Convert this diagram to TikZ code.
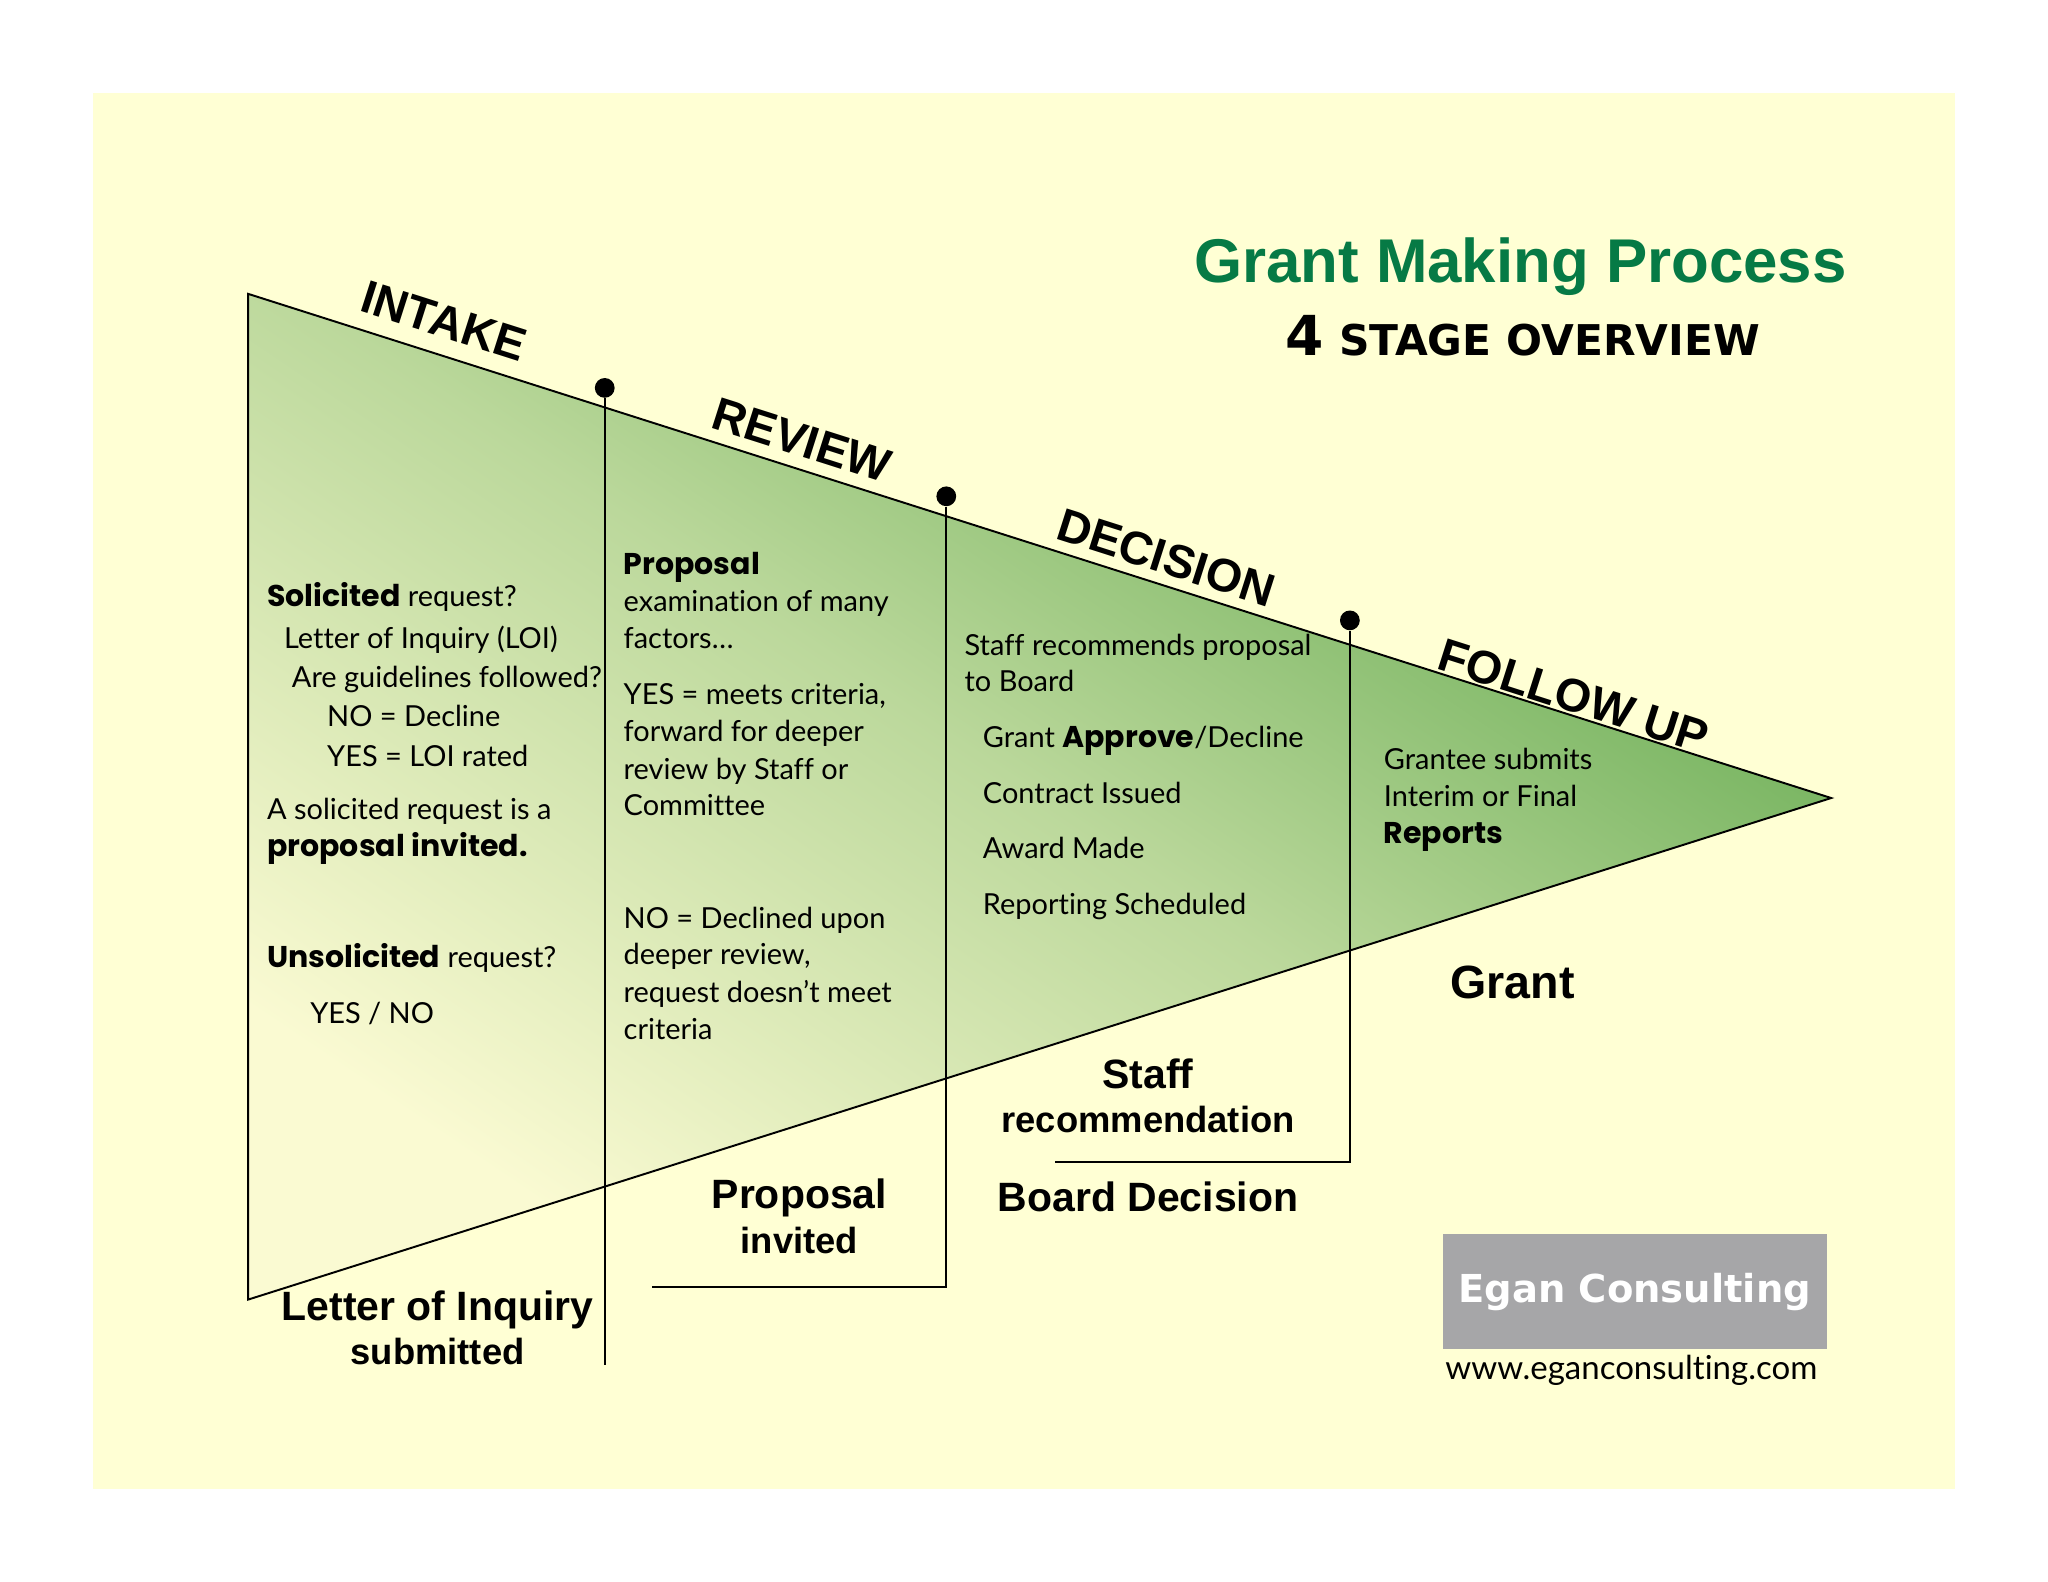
\documentclass[tikz,border=0pt]{standalone}
\usepackage{fontspec}
\setmainfont{Lato}[Ligatures=NoCommon]
\newfontfamily\headfont{Liberation Sans}[BoldFont={Liberation Sans Bold}]
\newfontfamily\subfont{DejaVu Sans}[BoldFont={DejaVu Sans Bold}]
\newfontfamily\strongfont{Poppins}[BoldFont={Poppins Bold}]
\newcommand{\strongword}[1]{{\strongfont\bfseries\fontsize{8.5}{10}\selectfont #1}}
\definecolor{pagebg}{HTML}{FFFFD4}
\definecolor{gradlow}{HTML}{FAFAD2}
\definecolor{gradmid}{HTML}{BBD89B}
\definecolor{gradhigh}{HTML}{62A94E}
\definecolor{titlegreen}{HTML}{067A45}
\definecolor{logogray}{HTML}{A6A6A8}
\tikzset{
  body/.style={anchor=base west, inner sep=0pt, xshift=-0.13mm, yshift=-0.2mm, font=\fontsize{8.2}{10}\selectfont},
  stagehead/.style={rotate=-17.7, inner sep=0pt, font=\headfont\bfseries\fontsize{13.2}{15}\selectfont},
  biglabel/.style={inner sep=0pt, font=\headfont\bfseries\fontsize{11.6}{13}\selectfont},
  smalllabel/.style={inner sep=0pt, font=\headfont\bfseries\fontsize{10.3}{12}\selectfont},
  stagedot/.style={fill=black, circle, inner sep=0pt, minimum size=5.6pt},
  stageline/.style={black, line width=0.55pt}
}
\begin{document}
\begin{tikzpicture}[x=0.13mm, y=-0.13mm]
    \useasboundingbox (0,0) rectangle (1568,1211.2);
    % Page
    \fill[pagebg] (71,71) rectangle (1497,1140);

    % Funnel
    \shade[bottom color=gradlow, top color=gradhigh, middle color=gradmid, shading=axis, shading angle=-34]
        (190,225) -- (1402,611) -- (190,995) -- cycle;
    \draw[stageline] (190,225) -- (1402,611) -- (190,995) -- cycle;

    % Stage gates
    \node[stagedot] (dotreview) at (463,297) {};
    \node[stagedot] (dotdecision) at (724.5,380) {};
    \node[stagedot] (dotfollow) at (1033.5,475) {};
    \coordinate (endreview) at (463,1045);
    \coordinate (endproposal) at (724.5,985.5);
    \coordinate (tailproposal) at (499,985.5);
    \coordinate (endboard) at (1033.5,890);
    \coordinate (tailboard) at (808,890);
    \draw[stageline] (dotreview) -- (endreview);
    \draw[stageline] (dotdecision) -- (endproposal) -- (tailproposal);
    \draw[stageline] (dotfollow) -- (endboard) -- (tailboard);

    % Stage names
    \node[stagehead] (intake) at (340,246) {INTAKE};
    \node[stagehead] (review) at (614,337) {REVIEW};
    \node[stagehead] (decision) at (893,427) {DECISION};
    \node[stagehead] (followup) at (1205,533) {FOLLOW UP};

    % Title
    \node[inner sep=0pt, text=titlegreen, font=\headfont\bfseries\fontsize{17.5}{20}\selectfont]
        (title) at (1164,204) {Grant Making Process};
    \node[inner sep=0pt, font=\subfont\bfseries\fontsize{12}{14}\selectfont]
        (subtitle) at (1166,257) {{\fontsize{15.6}{14}\selectfont 4} STAGE OVERVIEW};

    % Intake text
    \node[body] (intakea) at (205,463) {\strongword{Solicited} request?};
    \node[body] (intakeb) at (218,495) {Letter of Inquiry (LOI)};
    \node[body] (intakec) at (224,525) {Are guidelines followed?};
    \node[body] (intaked) at (251,555) {NO = Decline};
    \node[body] (intakee) at (251,585) {YES = LOI rated};
    \node[body] (intakef) at (205,626) {A solicited request is a};
    \node[body] (intakeg) at (205,654) {\strongword{proposal invited.}};
    \node[body] (intakeh) at (205,739) {\strongword{Unsolicited} request?};
    \node[body] (intakei) at (238,782) {YES / NO};

    % Review text
    \node[body] (reviewa) at (478,438) {\strongword{Proposal}};
    \node[body] (reviewb) at (478,467) {examination of many};
    \node[body] (reviewc) at (478,495) {factors…};
    \node[body] (reviewd) at (478,538) {YES = meets criteria,};
    \node[body] (reviewe) at (478,566) {forward for deeper};
    \node[body] (reviewf) at (478,595) {review by Staff or};
    \node[body] (reviewg) at (478,623) {Committee};
    \node[body] (reviewh) at (478,709) {NO = Declined upon};
    \node[body] (reviewi) at (478,737) {deeper review,};
    \node[body] (reviewj) at (478,766) {request doesn’t meet};
    \node[body] (reviewk) at (478,794) {criteria};

    % Decision text
    \node[body] (decisiona) at (739,500) {Staff recommends proposal};
    \node[body] (decisionb) at (739,528) {to Board};
    \node[body] (decisionc) at (753,571) {Grant \strongword{Approve}/Decline};
    \node[body] (decisiond) at (753,614) {Contract Issued};
    \node[body] (decisione) at (753,656) {Award Made};
    \node[body] (decisionf) at (753,699) {Reporting Scheduled};

    % Follow up text
    \node[body] (followa) at (1060,588) {Grantee submits};
    \node[body] (followb) at (1060,616) {Interim or Final};
    \node[body] (followc) at (1060,644) {\strongword{Reports}};

    % Milestones
    \node[biglabel] (loi) at (335,1003) {Letter of Inquiry};
    \node[smalllabel] (loisub) at (335,1035) {submitted};
    \node[biglabel] (proposal) at (612,917) {Proposal};
    \node[smalllabel] (invited) at (612,950) {invited};
    \node[biglabel] (staff) at (879,822) {Staff};
    \node[smalllabel] (recommend) at (879,857) {recommendation};
    \node[biglabel] (board) at (879,916) {Board Decision};
    \node[inner sep=0pt, font=\headfont\bfseries\fontsize{13.2}{15}\selectfont] (grant) at (1158,752) {Grant};

    % Logo
    \node[fill=logogray, minimum width=294*0.13mm, minimum height=88*0.13mm, inner sep=0pt,
          text=white, font=\subfont\bfseries\fontsize{10.9}{14}\selectfont] (logo) at (1251.5,989) {Egan Consulting};
    \node[inner sep=0pt, font=\fontsize{9.35}{12}\selectfont] (web) at (1249,1049) {www.eganconsulting.com};
\end{tikzpicture}
\end{document}
